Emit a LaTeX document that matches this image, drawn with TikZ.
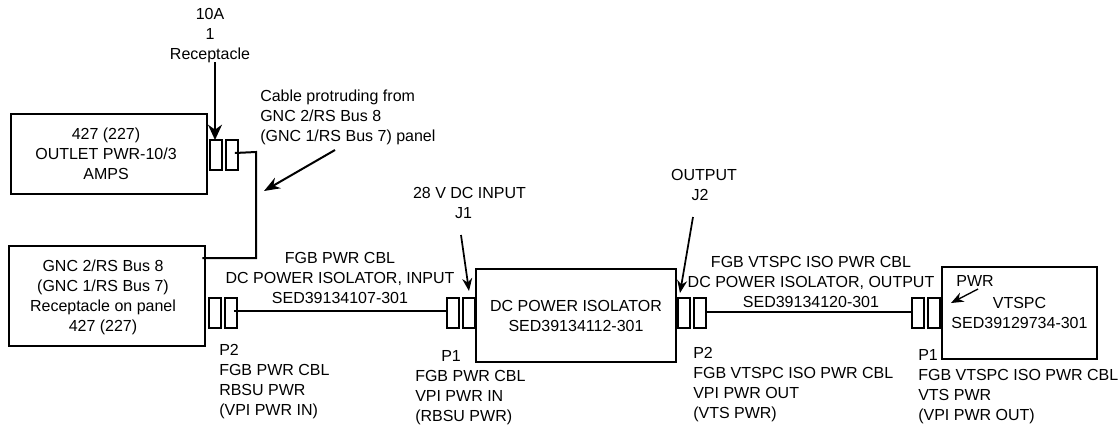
\documentclass[tikz,border=0pt]{standalone}
\usepackage{fontspec}
\setmainfont{Liberation Sans}
\usetikzlibrary{arrows.meta}
\tikzset{
    unitbox/.style={draw,line width=1.5pt,inner sep=0pt,outer sep=0pt,align=center},
    plug/.style={draw,line width=1.5pt,inner sep=0pt,outer sep=0pt,minimum width=9pt,minimum height=22.5pt},
    wire/.style={line width=1.5pt},
    pointer/.style={line width=1.3pt,-{Stealth[length=9.5pt,width=7.5pt]}},
    bigpointer/.style={line width=1.5pt,-{Stealth[length=11.5pt,width=10.5pt]}},
    caption/.style={inner sep=0pt,align=center},
    sidetext/.style={inner sep=0pt,align=left,anchor=west}
}
\begin{document}
\begin{tikzpicture}[x=0.75pt,y=-0.75pt,font=\fontsize{12}{15}\selectfont]
\useasboundingbox (0,0) rectangle (1120,429);

% caixas
\node[unitbox,minimum width=147pt,minimum height=60pt] (outlet) at (109,154) {};
\node[unitbox,minimum width=147pt,minimum height=75pt] (panel) at (107,296) {};
\node[unitbox,minimum width=150pt,minimum height=70pt] (isolator) at (576,315.5) {DC POWER ISOLATOR\\SED39134112-301};
\node[unitbox,minimum width=116pt,minimum height=69pt] (vtspc) at (1019.5,313) {VTSPC\\SED39129734-301};

% conectores
\foreach \name/\x/\y in {plugA/216/155,plugB/231.5/155,plugC/214.5/313,plugD/230.5/313,plugE/453/313,plugF/469/313,plugG/683.5/313,plugH/699.5/313,plugI/918/313,plugJ/933.5/313}
{
    \node[plug] (\name) at (\x,\y) {};
}

% cabos
\draw[wire] ([xshift=-2pt,yshift=1.5pt]plugB.east) -- (256,152) -- (256,258) -- ([xshift=-2pt]panel.east |- 0,258);
\draw[wire] ([xshift=-2pt,yshift=1.5pt]plugD.east) -- ([yshift=1.5pt]plugE.west);
\draw[wire] ([yshift=0.75pt]plugH.east) -- ([yshift=0.75pt]plugI.west);

% textos
\node[caption] (outlettext) at (106,154) {427 (227)\\OUTLET PWR-10/3\\AMPS};
\node[caption] (paneltext) at (103,297) {GNC 2/RS Bus 8\\(GNC 1/RS Bus 7)\\Receptacle on panel\\427 (227)};
\node[caption] (tenamp) at (210,36) {10A\\1\\Receptacle};
\node[sidetext] (cabletext) at (260,117) {Cable protruding from\\GNC 2/RS Bus 8\\(GNC 1/RS Bus 7) panel};
\node[caption] (inputcable) at (340,278) {FGB PWR CBL\\DC POWER ISOLATOR, INPUT\\SED39134107-301};
\node[sidetext] (ptwoleft) at (219,382) {P2\\FGB PWR CBL\\RBSU PWR\\(VPI PWR IN)};
\node[caption] (jone) at (469.5,203) {28 V DC INPUT\\J1\hspace*{9pt}};
\node[sidetext] (ponemid) at (415,388) {\hspace*{19.5pt}P1\\FGB PWR CBL\\VPI PWR IN\\(RBSU PWR)};
\node[caption] (jtwo) at (704,185) {OUTPUT\\J2\hspace*{6pt}};
\node[caption] (outputcable) at (811,282) {FGB VTSPC ISO PWR CBL\\DC POWER ISOLATOR, OUTPUT\\SED39134120-301};
\node[sidetext] (ptworight) at (693,385) {P2\\FGB VTSPC ISO PWR CBL\\VPI PWR OUT\\(VTS PWR)};
\node[sidetext] (poneright) at (918,387) {P1\\FGB VTSPC ISO PWR CBL\\VTS PWR\\(VPI PWR OUT)};
\node[caption] (pwrtext) at (975,281) {PWR};

% setas
\coordinate (tenfrom) at (215,62);
\coordinate (cablefrom) at (335,150);
\coordinate (cableto) at (264,191);
\coordinate (jonefrom) at (461,235);
\coordinate (joneto) at (469,291);
\coordinate (jtwofrom) at (693,217);
\coordinate (jtwoto) at (680,293);
\coordinate (pwrfrom) at (978,289);
\coordinate (pwrto) at (951,303);
\draw[bigpointer] (tenfrom) -- (tenfrom |- plugA.north);
\draw[bigpointer,-{Stealth[length=12pt,width=9pt]}] (cablefrom) -- (cableto);
\draw[pointer] (jonefrom) -- (joneto);
\draw[pointer] (jtwofrom) -- (jtwoto);
\draw[pointer,line width=1pt] (pwrfrom) -- (pwrto);

\end{tikzpicture}
\end{document}
